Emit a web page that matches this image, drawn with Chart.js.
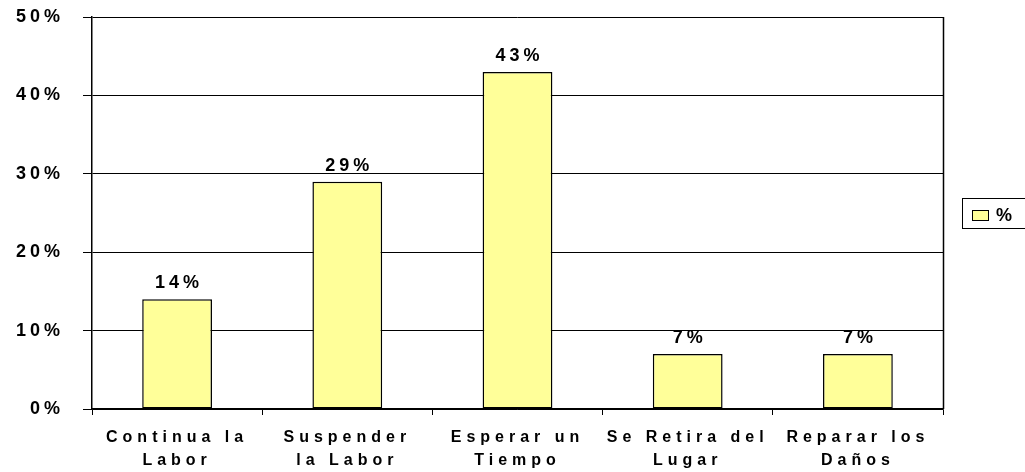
<!DOCTYPE html>
<html>
<head>
<meta charset="utf-8">
<script src="https://cdn.jsdelivr.net/npm/chart.js@4/dist/chart.umd.min.js"></script>
<style>
  body { margin: 0; background: #fff; }
  canvas { display: block; }
</style>
</head>
<body>
<canvas id="grafico" width="1025" height="472"></canvas>
<script>
// data
const categorias = [
  ["Continua la", "Labor"],
  ["Suspender", "la Labor"],
  ["Esperar un", "Tiempo"],
  ["Se Retira del", "Lugar"],
  ["Reparar los", "Daños"]
];
const porcentajes = [14, 29, 43, 7, 7];
const serieNombre = "%";
const ejeY = [0, 10, 20, 30, 40, 50];

const amarillo = "#FFFF99";
const fuente = "Arial, 'Liberation Sans', sans-serif";

// spaced out text, like the old excel export
const espaciado = {
  id: "espaciado",
  beforeDraw(chart) {
    const ctx = chart.ctx;
    ctx.letterSpacing = "4px";
    const x = chart.scales.x;
    if (x && !x._parcheado) {
      const orig = x.drawLabels;
      x.drawLabels = function (area) {
        this.ctx.letterSpacing = "5px";
        orig.call(this, area);
        this.ctx.letterSpacing = "4px";
      };
      x._parcheado = true;
    }
  }
};

// right border of plot + value labels + legend box
const extras = {
  id: "extras",
  afterDraw(chart) {
    const ctx = chart.ctx;
    const area = chart.chartArea;
    ctx.save();
    ctx.strokeStyle = "#000";
    ctx.lineWidth = 1.5;
    ctx.beginPath();
    ctx.moveTo(Math.round(area.right) + 0.5, area.top);
    ctx.lineTo(Math.round(area.right) + 0.5, area.bottom);
    ctx.stroke();

    // values above bars
    ctx.font = "bold 18px " + fuente;
    ctx.letterSpacing = "4px";
    ctx.fillStyle = "#000";
    ctx.textAlign = "center";
    ctx.textBaseline = "alphabetic";
    const meta = chart.getDatasetMeta(0);
    meta.data.forEach((bar, i) => {
      ctx.fillText(porcentajes[i] + "%", bar.x + 2, bar.y - 11);
    });

    // legend
    ctx.lineWidth = 1;
    const lx = area.right + 19, ly = 198;
    ctx.fillStyle = "#fff";
    ctx.fillRect(lx, ly, 80, 30);
    ctx.strokeRect(lx + 0.5, ly + 0.5, 80, 30);
    ctx.fillStyle = amarillo;
    ctx.fillRect(lx + 10.5, ly + 12.5, 16, 10);
    ctx.strokeRect(lx + 10.5, ly + 12.5, 16, 10);
    ctx.fillStyle = "#000";
    ctx.textAlign = "left";
    ctx.letterSpacing = "0px";
    ctx.fillText(serieNombre, lx + 34, ly + 23);
    ctx.restore();
  }
};

new Chart(document.getElementById("grafico"), {
  type: "bar",
  data: {
    labels: categorias,
    datasets: [{
      label: serieNombre,
      data: porcentajes,
      backgroundColor: amarillo,
      borderColor: "#000",
      borderWidth: 1.5,
      borderSkipped: false,
      barPercentage: 0.41,
      categoryPercentage: 1
    }]
  },
  options: {
    responsive: false,
    animation: false,
    devicePixelRatio: 1,
    layout: { padding: { top: 17, right: 82, left: 0, bottom: 0 } },
    plugins: {
      legend: { display: false },
      tooltip: { enabled: false }
    },
    scales: {
      x: {
        grid: {
          offset: true,
          drawOnChartArea: false,
          color: "#000",
          tickLength: 6
        },
        border: { color: "#000", width: 1.5 },
        ticks: {
          color: "#000",
          font: { family: fuente, size: 16, weight: "bold", lineHeight: 1.45 },
          padding: 11,
          maxRotation: 0,
          autoSkip: false
        },
        afterFit(s) {
          s.height = 63;
          s.paddingLeft = 0;
          s.paddingRight = 0;
        }
      },
      y: {
        min: ejeY[0],
        max: ejeY[ejeY.length - 1],
        afterBuildTicks(s) { s.ticks = ejeY.map(v => ({ value: v })); },
        grid: { color: "#000", tickLength: 9 },
        border: { color: "#000", width: 1.5 },
        ticks: {
          color: "#000",
          font: { family: fuente, size: 18, weight: "bold" },
          padding: 19,
          callback: v => v + "%"
        },
        afterFit(s) {
          s.width = 92;
          s.paddingTop = 0;
          s.paddingBottom = 0;
        }
      }
    }
  },
  plugins: [espaciado, extras]
});
</script>
</body>
</html>
